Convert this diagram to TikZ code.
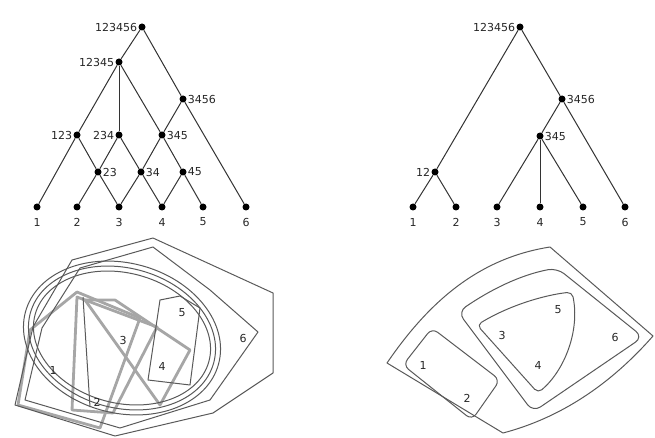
\documentclass[tikz,border=0pt]{standalone}
\usepackage{fontspec}
\setmainfont{DejaVu Sans}
\begin{document}
\begin{tikzpicture}[x=1pt,y=-1pt,
  dot/.style={circle,fill=black,inner sep=0pt,minimum size=7pt},
  lab/.style={font=\fontsize{11}{12}\selectfont,inner sep=1pt,text=black!85},
  edge/.style={line width=1pt,black!80},
  num/.style={font=\fontsize{11}{12}\selectfont,inner sep=0pt,text=black!85},
  setline/.style={line width=1pt,black!65,line join=round},
  band/.style={line width=2.8pt,black!35,line join=round},
]
\path[use as bounding box] (0,0) rectangle (655,438);

% ---------- left tree ----------
\node[dot,label={[lab]left:123456}] (L0) at (142,27) {};
\node[dot,label={[lab]left:12345}] (L12345) at (119,62) {};
\node[dot,label={[lab]right:3456}] (L3456) at (183,99) {};
\node[dot,label={[lab]left:123}] (L123) at (77,135) {};
\node[dot,label={[lab]left:234}] (L234) at (119,135) {};
\node[dot,label={[lab]right:345}] (L345) at (162,135) {};
\node[dot,label={[lab]right:23}] (L23) at (98,172) {};
\node[dot,label={[lab]right:34}] (L34) at (141,172) {};
\node[dot,label={[lab]right:45}] (L45) at (183,172) {};
\foreach \i/\x in {1/37,2/77,3/119,4/162,5/203,6/246}{
  \node[dot] (La\i) at (\x,207) {};
  \node[num] (Lt\i) at (\x,222) {\i};
}
\draw[edge] (L0) -- (L12345);
\draw[edge] (L0) -- (L3456);
\draw[edge] (L3456) -- (La6);
\draw[edge] (L3456) -- (L345);
\draw[edge] (L12345) -- (L123);
\draw[edge] (L12345) -- (L234);
\draw[edge] (L12345) -- (L345);
\draw[edge] (L123) -- (La1);
\draw[edge] (L123) -- (L23);
\draw[edge] (L234) -- (L23);
\draw[edge] (L234) -- (L34);
\draw[edge] (L345) -- (L34);
\draw[edge] (L345) -- (L45);
\draw[edge] (L23) -- (La2);
\draw[edge] (L23) -- (La3);
\draw[edge] (L34) -- (La3);
\draw[edge] (L34) -- (La4);
\draw[edge] (L45) -- (La4);
\draw[edge] (L45) -- (La5);

% ---------- right tree ----------
\node[dot,label={[lab]left:123456}] (R0) at (520,27) {};
\node[dot,label={[lab]right:3456}] (R3456) at (562,99) {};
\node[dot,label={[lab]right:345}] (R345) at (540,136) {};
\node[dot,label={[lab]left:12}] (R12) at (435,172) {};
\foreach \i/\x in {1/413,2/456,3/497,4/540,5/583,6/625}{
  \node[dot] (Ra\i) at (\x,207) {};
  \node[num] (Rt\i) at (\x,222) {\i};
}
\draw[edge] (R0) -- (R12);
\draw[edge] (R0) -- (R3456);
\draw[edge] (R12) -- (Ra1);
\draw[edge] (R12) -- (Ra2);
\draw[edge] (R3456) -- (R345);
\draw[edge] (R3456) -- (Ra6);
\draw[edge] (R345) -- (Ra3);
\draw[edge] (R345) -- (Ra4);
\draw[edge] (R345) -- (Ra5);

% ---------- left set diagram ----------
% gray bands
\draw[band] (30,330) -- (77,292) -- (140,318) -- (100,428) -- (18,405) -- cycle;
\draw[band] (77,297) -- (157,327) -- (113,413) -- (72,410) -- cycle;
\draw[band] (85,300) -- (115,300) -- (190,350) -- (160,405) -- cycle;
% outer polygons
\draw[setline] (15,405) -- (33,327) -- (72,260) -- (153,238) -- (273,293) -- (273,373) -- (213,413) -- (115,436) -- cycle;
\draw[setline] (25,400) -- (42,328) -- (80,268) -- (153,247) -- (210,290) -- (258,332) -- (210,400) -- (120,428) -- cycle;
% concentric rounded shapes
\draw[setline,rotate around={-15:(122,338)}] (122,338) ellipse [x radius=100,y radius=75];
\draw[setline,rotate around={-15:(122,338)}] (122,338) ellipse [x radius=95,y radius=70];
\draw[setline,rotate around={-15:(122,338)}] (122,338) ellipse [x radius=90,y radius=65];
% small shapes
\draw[setline] (160,300) -- (180,296) -- (200,308) -- (190,385) -- (148,380) -- cycle;
\draw[setline] (83,297) -- (90,407);
% labels
\node[num] (b1) at (53,370) {1};
\node[num] (b2) at (97,402) {2};
\node[num] (b3) at (123,340) {3};
\node[num] (b4) at (162,366) {4};
\node[num] (b5) at (182,313) {5};
\node[num] (b6) at (243,338) {6};

% ---------- right set diagram ----------
\draw[setline] (387,363) .. controls (430,300) and (480,258) .. (550,247) -- (653,336) .. controls (610,385) and (560,418) .. (503,433) -- cycle;
\draw[setline,rounded corners=9pt] (458,312) .. controls (490,290) and (520,275) .. (557,268) -- (643,337) -- (533,412) -- cycle;
\draw[setline,rounded corners=5pt] (477,325) .. controls (510,305) and (545,295) .. (572,292) .. controls (580,330) and (565,370) .. (538,393) -- cycle;
\draw[setline,rounded corners=7pt] (403,365) -- (432,328) -- (500,380) -- (472,420) -- cycle;
\node[num] (c1) at (423,365) {1};
\node[num] (c2) at (467,398) {2};
\node[num] (c3) at (502,335) {3};
\node[num] (c4) at (538,365) {4};
\node[num] (c5) at (558,310) {5};
\node[num] (c6) at (615,337) {6};
\end{tikzpicture}
\end{document}
